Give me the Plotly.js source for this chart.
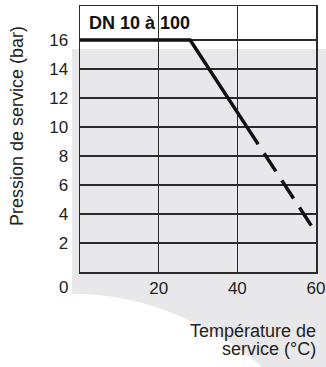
<!DOCTYPE html>
<html>
<head>
<meta charset="utf-8">
<script src="https://cdn.plot.ly/plotly-3.0.1.min.js"></script>
<style>
html,body{margin:0;padding:0;background:#fff;}
#chart{width:326px;height:367px;}
</style>
</head>
<body>
<div id="chart"></div>
<script>
// Data
const temperaturesSolid = [0, 28, 42.3];
const pressuresSolid = [16, 16, 10.06];
const temperaturesDashed = [42.3, 60];
const pressuresDashed = [10.06, 2.7];
const yTickValues = [2, 4, 6, 8, 10, 12, 14, 16];
const yTickLabels = ['2', '4', '6', '8', '10', '12', '14', '16'];
const xTickValues = [0, 20, 40, 60];
const xTickLabels = ['', '20', '40', '60'];
const seriesLabel = 'DN 10 à 100';

const W = 326, H = 367;
const M = {l: 80, r: 10, t: 6, b: 95};
const pw = W - M.l - M.r, ph = H - M.t - M.b;
const px = x => (x - M.l) / pw;
const py = y => (H - M.b - y) / ph;

const FONT = 'Liberation Sans, Arial, Helvetica, sans-serif';
const TXT = '#222';
const GRID = '#2b2b2b';
const GREY = '#e8e8ea';

const greyPath =
  'M ' + px(72) + ',' + py(49) +
  ' L ' + px(326) + ',' + py(49) +
  ' L ' + px(326) + ',' + py(367) +
  ' L ' + px(262) + ',' + py(367) +
  ' C ' + px(215) + ',' + py(325) + ' ' + px(140) + ',' + py(292) + ' ' + px(72) + ',' + py(294) +
  ' Z';

const traces = [
  {x: temperaturesSolid, y: pressuresSolid, mode: 'lines', type: 'scatter',
   line: {color: '#111', width: 3.5}, hoverinfo: 'skip', showlegend: false},
  {x: temperaturesDashed, y: pressuresDashed, mode: 'lines', type: 'scatter',
   line: {color: '#111', width: 3.5, dash: '21.6px,10.8px'}, hoverinfo: 'skip', showlegend: false}
];

const layout = {
  width: W, height: H,
  margin: M,
  paper_bgcolor: '#fff',
  plot_bgcolor: 'rgba(0,0,0,0)',
  showlegend: false,
  font: {family: FONT, size: 17, color: TXT},
  xaxis: {
    range: [0, 60], tickvals: xTickValues, ticktext: xTickLabels,
    showgrid: true, gridcolor: GRID, gridwidth: 1.5,
    showline: true, linecolor: GRID, linewidth: 1.5, mirror: true,
    zeroline: false, ticks: '',
    tickfont: {family: FONT, size: 17, color: TXT}, fixedrange: true
  },
  yaxis: {
    range: [0, 266 / 14.5], tickvals: yTickValues, ticktext: yTickLabels,
    showgrid: true, gridcolor: GRID, gridwidth: 1.5,
    showline: true, linecolor: GRID, linewidth: 1.5, mirror: true,
    zeroline: false, ticks: 'outside', ticklen: 7, tickcolor: 'rgba(0,0,0,0)',
    tickfont: {family: FONT, size: 17, color: TXT}, fixedrange: true
  },
  shapes: [
    {type: 'path', xref: 'paper', yref: 'paper', path: greyPath,
     fillcolor: GREY, line: {width: 0}, layer: 'below'}
  ],
  annotations: [
    {xref: 'paper', yref: 'paper', x: px(87), y: py(23), xanchor: 'left', yanchor: 'middle',
     text: '<b>' + seriesLabel + '</b>', showarrow: false, font: {family: FONT, size: 18, color: '#111'}},
    {xref: 'paper', yref: 'paper', x: px(63), y: py(287), xanchor: 'center', yanchor: 'middle',
     text: '0', showarrow: false, font: {family: FONT, size: 17, color: TXT}},
    {xref: 'paper', yref: 'paper', x: px(17), y: py(126), xanchor: 'center', yanchor: 'middle',
     text: 'Pression de service (bar)', textangle: -90, showarrow: false,
     font: {family: FONT, size: 18, color: TXT}},
    {xref: 'paper', yref: 'paper', x: px(318), y: py(331), xanchor: 'right', yanchor: 'middle',
     text: 'Température de', showarrow: false, font: {family: FONT, size: 18, color: TXT}},
    {xref: 'paper', yref: 'paper', x: px(318), y: py(349), xanchor: 'right', yanchor: 'middle',
     text: 'service (°C)', showarrow: false, font: {family: FONT, size: 18, color: TXT}}
  ]
};

Plotly.newPlot('chart', traces, layout, {displayModeBar: false, staticPlot: true});
</script>
</body>
</html>
